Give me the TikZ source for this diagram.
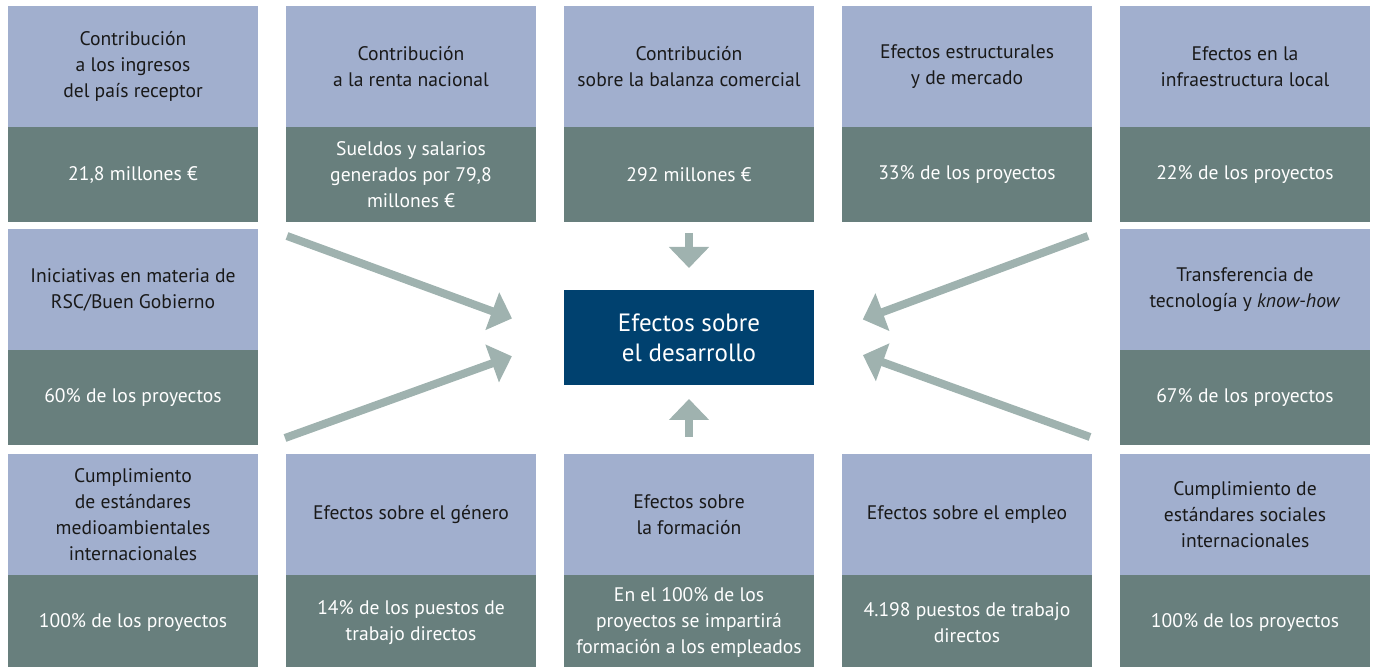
\documentclass[tikz,border=0pt]{standalone}
\usepackage{fontspec}
\setmainfont{PT Sans}
\usetikzlibrary{positioning, arrows.meta, calc}

\definecolor{lilac}{HTML}{A1AFCE}
\definecolor{slate}{HTML}{687F7D}
\definecolor{navy}{HTML}{00416F}
\definecolor{haze}{HTML}{9FB2AF}

\begin{document}
\begin{tikzpicture}[x=0.5pt, y=-0.5pt,
    topic/.style={rectangle, fill=lilac, text=black!90, align=center, inner sep=2pt, outer sep=0pt, minimum width=125pt, minimum height=60.5pt, font=\fontsize{9.8}{13}\selectfont},
    figure/.style={rectangle, fill=slate, text=white, align=center, inner sep=2pt, outer sep=0pt, minimum width=125pt, minimum height=47.5pt, font=\fontsize{9.8}{13}\selectfont},
    core/.style={rectangle, fill=navy, text=white, align=center, outer sep=0pt, minimum width=125pt, minimum height=47.5pt, font=\fontsize{12.5}{15}\selectfont},
    feed/.style={draw=haze, line width=4pt, -{Triangle[length=10.5pt, width=19.5pt]}},
    node distance=14pt]

  \useasboundingbox (0,0) rectangle (1375,667);

  % top row
  \node[topic, anchor=north west] (ingresos) at (8,6) {Contribución\\a los ingresos\\del país receptor};
  \node[figure, below=0pt of ingresos] (ingresosV) {21,8 millones €};

  \node[topic, right=of ingresos] (renta) {Contribución\\a la renta nacional};
  \node[figure, below=0pt of renta] (rentaV) {Sueldos y salarios\\generados por 79,8\\millones €};

  \node[topic, right=of renta] (balanza) {Contribución\\sobre la balanza comercial};
  \node[figure, below=0pt of balanza] (balanzaV) {292 millones €};

  \node[topic, right=of balanza] (mercado) {Efectos estructurales\\y de mercado};
  \node[figure, below=0pt of mercado] (mercadoV) {33\% de los proyectos};

  \node[topic, right=of mercado] (infra) {Efectos en la\\infraestructura local};
  \node[figure, below=0pt of infra] (infraV) {22\% de los proyectos};

  % middle row
  \node[topic, below=3.5pt of ingresosV] (rsc) {Iniciativas en materia de\\RSC/Buen Gobierno};
  \node[figure, below=0pt of rsc] (rscV) {60\% de los proyectos};

  \node[topic, below=3.5pt of infraV] (tecno) {Transferencia de\\tecnología y \textit{know-how}};
  \node[figure, below=0pt of tecno] (tecnoV) {67\% de los proyectos};

  \node[core, below=34pt of balanzaV] (core) {Efectos sobre\\el desarrollo};

  % bottom row
  \node[topic, below=4.5pt of rscV] (medio) {Cumplimiento\\de estándares\\medioambientales\\internacionales};
  \node[figure, below=0pt of medio] (medioV) {100\% de los proyectos};

  \node[topic, right=of medio] (genero) {Efectos sobre el género};
  \node[figure, below=0pt of genero] (generoV) {14\% de los puestos de\\trabajo directos};

  \node[topic, right=of genero] (formacion) {Efectos sobre\\la formación};
  \node[figure, below=0pt of formacion] (formacionV) {En el 100\% de los\\proyectos se impartirá\\formación a los empleados};

  \node[topic, right=of formacion] (empleo) {Efectos sobre el empleo};
  \node[figure, below=0pt of empleo] (empleoV) {4.198 puestos de trabajo\\directos};

  \node[topic, right=of empleo] (social) {Cumplimiento de\\estándares sociales\\internacionales};
  \node[figure, below=0pt of social] (socialV) {100\% de los proyectos};

  % arrows into the centre
  \draw[feed] ($(balanzaV.south)+(0,11)$) -- ($(core.north)+(0,-22)$);
  \draw[feed] ($(formacion.north)+(0,-17)$) -- ($(core.south)+(0,14)$);
  \draw[feed, shorten >=27.7pt] ($(rentaV.south west)+(1,14)$) -- (core.west);
  \draw[feed, shorten >=27.7pt] ($(genero.north west)+(-1,-16)$) -- (core.west);
  \draw[feed, shorten >=26pt] ($(mercadoV.south east)+(-4,14)$) -- (core.east);
  \draw[feed, shorten >=26pt] ($(empleo.north east)+(-2,-17)$) -- (core.east);

\end{tikzpicture}
\end{document}
